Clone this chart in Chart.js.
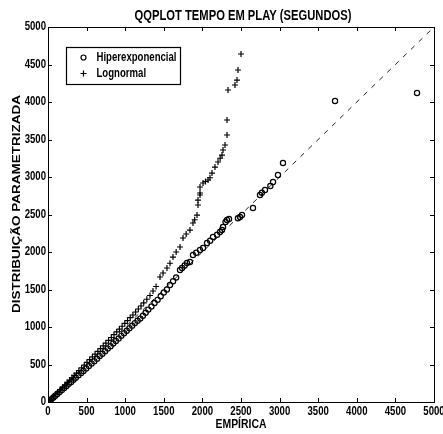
<!DOCTYPE html>
<html><head><meta charset="utf-8">
<script src="https://cdn.jsdelivr.net/npm/chart.js@4/dist/chart.umd.min.js"></script>
<style>html,body{margin:0;padding:0;background:#fff}#w{width:443px;height:434px;position:relative}</style>
</head><body><div id="w"><canvas id="c"></canvas></div>
<script>
const titleText = 'QQPLOT TEMPO EM PLAY (SEGUNDOS)';
const xTitle = 'EMPÍRICA';
const yTitle = 'DISTRIBUIÇÃO PARAMETRIZADA';
const seriesNames = ['Hiperexponencial', 'Lognormal'];
const tickValues = [0, 500, 1000, 1500, 2000, 2500, 3000, 3500, 4000, 4500, 5000];
const refLineX = [0, 5000];
const refLineY = [0, 5000];

const hiperX = [0, 20, 45, 70, 95, 120, 150, 180, 210, 240, 270, 300, 330, 360, 395, 430, 460, 495, 530, 565, 600, 635, 670, 705, 740, 775, 810, 845, 880, 915, 950, 985, 1020, 1055, 1090, 1125, 1160, 1195, 1230, 1265, 1300, 1340, 1380, 1420, 1460, 1500, 1540, 1580, 1620, 1660, 1710, 1736, 1770, 1800, 1839, 1878, 1920, 1969, 2008, 2060, 2100, 2137, 2190, 2228, 2254, 2267, 2300, 2319, 2345, 2460, 2487, 2513, 2655, 2746, 2770, 2811, 2880, 2915, 2979, 3044, 3718, 4780];
const hiperY = [0, 15, 38, 60, 84, 106, 133, 160, 188, 214, 242, 268, 297, 324, 356, 388, 415, 448, 480, 512, 545, 578, 612, 644, 678, 712, 745, 780, 813, 848, 882, 917, 950, 985, 1018, 1052, 1085, 1112, 1150, 1190, 1232, 1275, 1320, 1362, 1410, 1460, 1500, 1560, 1610, 1660, 1760, 1787, 1820, 1853, 1867, 1960, 1990, 2027, 2053, 2120, 2150, 2200, 2230, 2267, 2293, 2333, 2400, 2427, 2440, 2450, 2467, 2493, 2587, 2760, 2790, 2827, 2880, 2933, 3027, 3187, 4013, 4120];

const logX = [0, 25, 50, 75, 100, 130, 160, 190, 220, 250, 280, 310, 340, 370, 400, 435, 470, 505, 540, 575, 610, 645, 680, 715, 750, 785, 820, 855, 890, 925, 960, 995, 1030, 1065, 1100, 1135, 1170, 1205, 1240, 1280, 1321, 1360, 1400, 1451, 1490, 1541, 1580, 1619, 1660, 1710, 1749, 1790, 1839, 1878, 1900, 1930, 1943, 1943, 1969, 1969, 1969, 2008, 2040, 2073, 2098, 2124, 2163, 2202, 2230, 2254, 2267, 2293, 2319, 2319, 2332, 2422, 2448, 2461, 2500];
const logY = [0, 25, 52, 78, 104, 135, 167, 198, 230, 261, 292, 323, 355, 386, 418, 454, 491, 528, 565, 601, 638, 675, 712, 749, 786, 823, 860, 898, 935, 972, 1010, 1048, 1086, 1124, 1160, 1200, 1240, 1280, 1322, 1370, 1420, 1480, 1540, 1667, 1720, 1787, 1850, 1933, 2000, 2067, 2187, 2240, 2293, 2387, 2430, 2493, 2627, 2693, 2760, 2787, 2867, 2920, 2940, 2960, 2990, 3053, 3133, 3200, 3250, 3293, 3360, 3427, 3560, 3760, 4160, 4227, 4293, 4427, 4640];

const FONT = '"Liberation Sans",Arial,sans-serif';
const SX = 0.8; // horizontal condensing of text (narrow Helvetica look)

const canvas = document.getElementById('c');
const c2d = canvas.getContext('2d');
const rawFill = c2d.fillText.bind(c2d);
c2d.fillText = function (t, x, y, mw) {
  this.save();
  this.translate(x, y);
  this.scale(SX, 1);
  rawFill(t, 0, 0);
  this.restore();
};

const toPts = (xs, ys) => xs.map((x, i) => ({x, y: ys[i]}));

const framePlugin = {
  id: 'frame',
  afterDatasetsDraw(chart) {
    const ctx = chart.ctx, a = chart.chartArea;
    const xs = chart.scales.x, ys = chart.scales.y;
    ctx.save();
    ctx.strokeStyle = '#000'; ctx.lineWidth = 1;
    ctx.strokeRect(Math.round(a.left) + 0.5, Math.round(a.top) + 0.5, Math.round(a.right - a.left), Math.round(a.bottom - a.top));
    ctx.beginPath();
    tickValues.forEach(v => {
      const px = Math.round(xs.getPixelForValue(v)) + 0.5;
      ctx.moveTo(px, a.bottom); ctx.lineTo(px, a.bottom - 4);
      ctx.moveTo(px, a.top); ctx.lineTo(px, a.top + 4);
      const py = Math.round(ys.getPixelForValue(v)) + 0.5;
      ctx.moveTo(a.left, py); ctx.lineTo(a.left + 4, py);
      ctx.moveTo(a.right, py); ctx.lineTo(a.right - 4, py);
    });
    ctx.stroke();
    // legend
    const lx = a.left + 18.5, ly = a.top + 20.5, lw = 114, lh = 37;
    ctx.fillStyle = '#fff';
    ctx.fillRect(lx, ly, lw, lh);
    ctx.lineWidth = 1.2;
    ctx.strokeRect(lx, ly, lw, lh);
    ctx.beginPath();
    ctx.arc(lx + 17, ly + 10, 2.5, 0, Math.PI * 2);
    ctx.stroke();
    ctx.beginPath();
    ctx.moveTo(lx + 17, ly + 23); ctx.lineTo(lx + 17, ly + 29);
    ctx.moveTo(lx + 14, ly + 26); ctx.lineTo(lx + 20, ly + 26);
    ctx.stroke();
    ctx.fillStyle = '#000';
    ctx.font = 'bold 12px ' + FONT;
    ctx.textBaseline = 'middle';
    ctx.textAlign = 'left';
    ctx.fillText(seriesNames[0], lx + 30, ly + 10);
    ctx.fillText(seriesNames[1], lx + 30, ly + 26);
    // chart title
    ctx.textAlign = 'center';
    ctx.font = 'bold 14px ' + FONT;
    ctx.fillText(titleText, 243, 16);
    // y title (rotated, not condensed along its length)
    ctx.save();
    ctx.translate(17, 204);
    ctx.rotate(-Math.PI / 2);
    ctx.scale(1, 0.85);
    ctx.textAlign = 'center';
    ctx.textBaseline = 'middle';
    ctx.font = 'bold 13.5px ' + FONT;
    rawFill(yTitle, 0, 0);
    ctx.restore();
    ctx.restore();
  }
};

new Chart(canvas, {
  type: 'scatter',
  data: {
    datasets: [
      {
        type: 'line', label: 'ref', data: toPts(refLineX, refLineY),
        borderColor: '#222', borderWidth: 1, borderDash: [5, 6], pointRadius: 0, fill: false, order: 3
      },
      {
        label: seriesNames[0], data: toPts(hiperX, hiperY),
        pointStyle: 'circle', pointRadius: 2.6, borderColor: '#000', backgroundColor: 'rgba(0,0,0,0)', borderWidth: 1.2, order: 2
      },
      {
        label: seriesNames[1], data: toPts(logX, logY),
        pointStyle: 'cross', pointRadius: 3, borderColor: '#000', backgroundColor: '#000', borderWidth: 1.2, order: 1
      }
    ]
  },
  options: {
    responsive: true, maintainAspectRatio: false, animation: false, devicePixelRatio: 1,
    layout: {padding: {top: 27, right: 9, left: 0, bottom: 0}},
    plugins: {
      legend: {display: false},
      tooltip: {enabled: false},
      title: {display: false}
    },
    scales: {
      x: {
        type: 'linear', min: 0, max: 5000,
        afterBuildTicks: s => { s.ticks = tickValues.map(v => ({value: v})); },
        ticks: {color: '#000', font: {family: FONT, size: 12, weight: 'bold'}, padding: 2, maxRotation: 0, autoSkip: false, callback: v => String(v)},
        grid: {display: false, drawTicks: false}, border: {display: false},
        title: {display: true, text: xTitle, color: '#000', font: {family: FONT, size: 13, weight: 'bold'}, padding: {top: 0, bottom: 2}},
        afterFit: s => { s.height = 32; s.paddingLeft = 0; s.paddingRight = 0; }
      },
      y: {
        type: 'linear', min: 0, max: 5000,
        afterBuildTicks: s => { s.ticks = tickValues.map(v => ({value: v})); },
        ticks: {color: '#000', font: {family: FONT, size: 12, weight: 'bold'}, padding: 2, autoSkip: false, callback: v => String(v)},
        grid: {display: false, drawTicks: false}, border: {display: false},
        afterFit: s => { s.width = 48; s.paddingTop = 0; s.paddingBottom = 0; }
      }
    }
  },
  plugins: [framePlugin]
});
</script>
</body></html>
